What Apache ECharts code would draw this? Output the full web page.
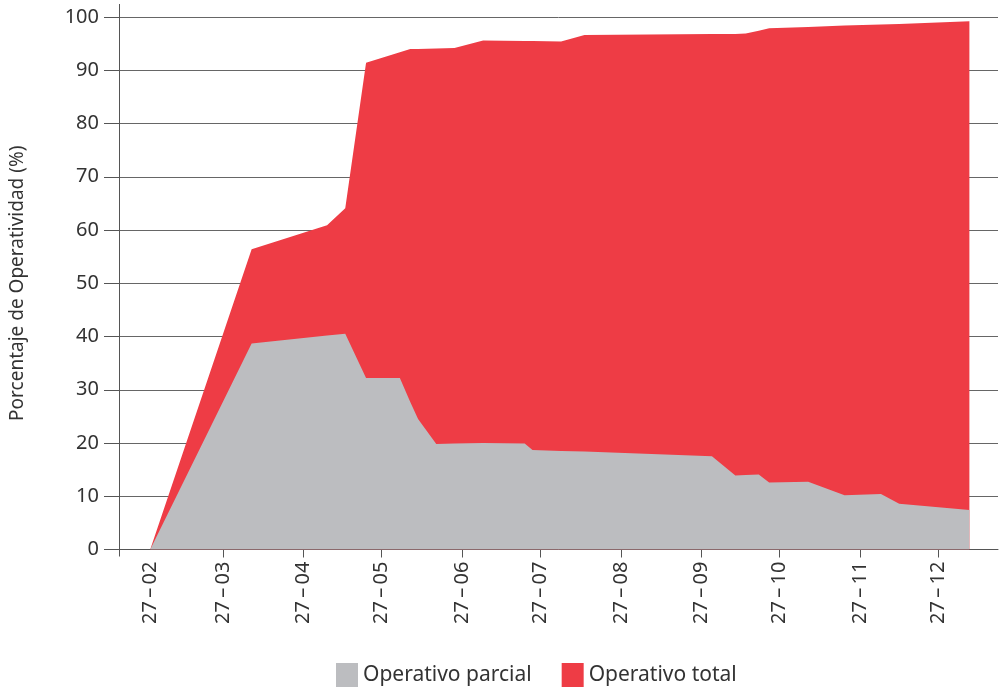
<!DOCTYPE html>
<html>
<head>
<meta charset="utf-8">
<script src="https://cdn.jsdelivr.net/npm/echarts@6/dist/echarts.min.js"></script>
<style>
  html, body { margin: 0; padding: 0; background: #fff; }
  #chart { width: 1000px; height: 691px; }
</style>
</head>
<body>
<div id="chart"></div>
<script>
// Hospital operativity after 27 February 2010, share of establishments (%)
const dates = [
  '2010-02-27', '2010-04-07', '2010-05-06', '2010-05-13', '2010-05-21',
  '2010-06-03', '2010-06-07', '2010-06-10', '2010-06-17', '2010-06-24',
  '2010-07-05', '2010-07-21', '2010-07-24', '2010-08-04', '2010-08-13',
  '2010-10-01', '2010-10-10', '2010-10-14', '2010-10-19', '2010-10-23',
  '2010-11-07', '2010-11-21', '2010-12-05', '2010-12-12', '2011-01-08'
];
const operativoParcial = [
  0, 38.7, 40.2, 40.5, 32.2,
  32.2, 27.7, 24.5, 19.8, 19.9,
  20.0, 19.9, 18.7, 18.5, 18.4,
  17.5, 13.9, 14.0, 14.1, 12.6,
  12.7, 10.2, 10.4, 8.6, 7.4
];
const operativoTotal = [
  0, 17.7, 20.7, 23.6, 59.2,
  61.2, 66.3, 69.5, 74.3, 74.3,
  75.6, 75.6, 76.8, 76.9, 78.2,
  79.3, 82.9, 82.9, 83.3, 85.3,
  85.4, 88.2, 88.2, 90.1, 91.8
];
const tickDates = [
  '2010-02-27', '2010-03-27', '2010-04-27', '2010-05-27', '2010-06-27',
  '2010-07-27', '2010-08-27', '2010-09-27', '2010-10-27', '2010-11-27',
  '2010-12-27'
];
const yTicks = [0, 10, 20, 30, 40, 50, 60, 70, 80, 90, 100];

const FONT = '"Noto Sans", "Open Sans", sans-serif';
const TEXT = '#333';
const AXIS = '#555';
const X_MIN = '2010-02-15';
const X_MAX = '2011-01-19';
// dates -> local-midnight timestamps, used as a linear day scale on x
const ts = s => {
  const [y, m, d] = s.split('-').map(Number);
  return new Date(y, m - 1, d).getTime();
};
const pad = n => (n < 10 ? '0' : '') + n;

// "Operativo total" is stacked on top of "Operativo parcial": its upper edge
// is the sum of both shares, and the grey band is painted over its lower part.
const stackedTop = operativoParcial.map((p, i) => +(p + operativoTotal[i]).toFixed(1));

const chart = echarts.init(document.getElementById('chart'), null, { renderer: 'canvas' });

chart.setOption({
  animation: false,
  textStyle: { fontFamily: FONT },
  grid: { left: 118, right: 2, top: 17, bottom: 141.5, containLabel: false },
  legend: {
    left: 331,
    top: 658,
    icon: 'rect',
    itemWidth: 22,
    itemHeight: 24,
    itemGap: 30,
    textStyle: { fontFamily: FONT, fontSize: 21, color: TEXT },
    data: ['Operativo parcial', 'Operativo total']
  },
  xAxis: {
    type: 'value',
    min: ts(X_MIN),
    max: ts(X_MAX),
    axisLine: { show: true, onZero: false, lineStyle: { color: AXIS, width: 1 } },
    axisTick: {
      show: true,
      length: 8,
      lineStyle: { color: AXIS },
      customValues: tickDates.slice(1).map(ts)
    },
    axisLabel: {
      customValues: tickDates.map(ts),
      rotate: 90,
      margin: 12,
      fontSize: 20,
      fontFamily: FONT,
      color: TEXT,
      showMinLabel: true,
      showMaxLabel: true,
      formatter: v => {
        const d = new Date(v);
        return pad(d.getDate()) + '\u2009\u2013\u2009' + pad(d.getMonth() + 1);
      }
    },
    splitLine: { show: false }
  },
  yAxis: {
    type: 'value',
    min: 0,
    max: 100,
    interval: 10,
    name: 'Porcentaje de Operatividad (%)',
    nameLocation: 'middle',
    nameRotate: 90,
    nameGap: 92,
    nameTextStyle: { fontSize: 19, fontFamily: FONT, color: TEXT },
    axisLine: { show: true, lineStyle: { color: AXIS, width: 1 } },
    axisTick: { show: true, inside: false, length: 15, lineStyle: { color: AXIS } },
    axisLabel: {
      fontSize: 20,
      fontFamily: FONT,
      color: TEXT,
      margin: 20,
      formatter: v => (yTicks.includes(v) ? String(v) : '')
    },
    splitLine: { show: true, lineStyle: { color: '#666', width: 1 } }
  },
  series: [
    {
      name: 'Operativo total',
      type: 'line',
      symbol: 'none',
      z: 2,
      lineStyle: { width: 0 },
      areaStyle: { color: '#EE3C45', opacity: 1 },
      itemStyle: { color: '#EE3C45' },
      data: dates.map((d, i) => [ts(d), stackedTop[i]])
    },
    {
      name: 'Operativo parcial',
      type: 'line',
      symbol: 'none',
      z: 3,
      lineStyle: { width: 0 },
      areaStyle: { color: '#BCBDC0', opacity: 1 },
      itemStyle: { color: '#BCBDC0' },
      data: dates.map((d, i) => [ts(d), operativoParcial[i]])
    }
  ]
});

// The vertical axis line runs a little past both ends of the value range.
const axisTopPx = chart.convertToPixel({ gridIndex: 0 }, [ts(X_MIN), 100]);
const axisBottomPx = chart.convertToPixel({ gridIndex: 0 }, [ts(X_MIN), 0]);
const axisX = Math.round(axisTopPx[0]) + 0.5;
chart.setOption({
  graphic: [
    { type: 'line', silent: true, z: 10,
      shape: { x1: axisX, y1: axisTopPx[1] - 13, x2: axisX, y2: axisTopPx[1] },
      style: { stroke: AXIS, lineWidth: 1 } },
    { type: 'line', silent: true, z: 10,
      shape: { x1: axisX, y1: axisBottomPx[1], x2: axisX, y2: axisBottomPx[1] + 7 },
      style: { stroke: AXIS, lineWidth: 1 } }
  ]
});
</script>
</body>
</html>
